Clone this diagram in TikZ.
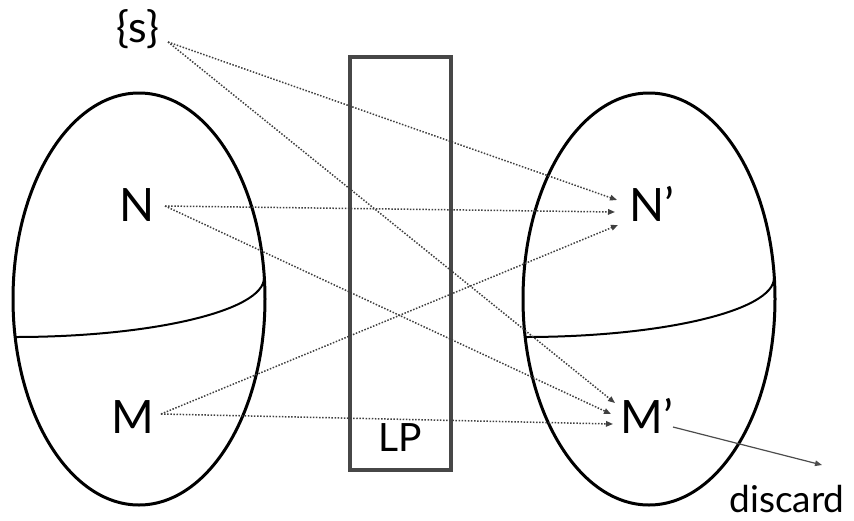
\documentclass[tikz,border=0pt]{standalone}
\usepackage{fontspec}
\setmainfont{Lato}
\usetikzlibrary{arrows.meta}
\tikzset{
  lbl/.style={anchor=base, inner sep=0pt, font=\fontsize{46}{50}\selectfont},
  lblsmall/.style={anchor=base, inner sep=0pt, font=\fontsize{38}{42}\selectfont},
  egg/.style={draw=black, line width=3pt},
  equator/.style={draw=black, line width=2pt},
  lpbox/.style={draw=black!72, line width=3.2pt},
  dotarrow/.style={draw=black!75, line width=1.5pt, dash pattern=on 1.5pt off 1.6pt,
    -{Triangle[length=7pt,width=5.5pt,black!75]}},
  solidarrow/.style={draw=black!70, line width=1.2pt, -{Triangle[length=7pt,width=5.5pt,black!70]}}
}
\begin{document}
\begin{tikzpicture}[x=1pt,y=-1pt]
\useasboundingbox (0,0) rectangle (854,520);
% left and right spheres
\draw[egg] (139,299) ellipse [x radius=126, y radius=206];
\draw[equator] (264,278) arc [start angle=0, end angle=90, x radius=249, y radius=59];
\draw[egg] (649,299) ellipse [x radius=126, y radius=206];
\draw[equator] (774,278) arc [start angle=0, end angle=90, x radius=249, y radius=59];
% LP box
\draw[lpbox] (350,57) rectangle (451,470);
\node[lblsmall, font=\fontsize{39}{42}\selectfont] (lp) at (400,451) {LP};
% labels
\node[lblsmall, font=\fontsize{43}{46}\selectfont] (s) at (138,42) {\{s\}};
\node[lbl] (n) at (137,221) {N};
\node[lbl] (m) at (133,433) {M};
\node[lbl] (np) at (652,221) {N’};
\node[lbl] (mp) at (647,433) {M’};
\node[lblsmall, font=\fontsize{37}{40}\selectfont] (disc) at (787,512) {discard};
% connector ends
\coordinate (sOut) at (168,42);
\coordinate (nOut) at (165,206);
\coordinate (mOut) at (161,414);
\coordinate (npA) at (617,200);
\coordinate (npB) at (615,212);
\coordinate (npC) at (618,225);
\coordinate (mpA) at (615,403);
\coordinate (mpB) at (611,414);
\coordinate (mpC) at (613,424);
\coordinate (mpOut) at (673,427);
\coordinate (discIn) at (822,465);
% connectors
\draw[dotarrow] (sOut) -- (npA);
\draw[dotarrow] (sOut) -- (mpA);
\draw[dotarrow] (nOut) -- (npB);
\draw[dotarrow] (nOut) -- (mpB);
\draw[dotarrow] (mOut) -- (npC);
\draw[dotarrow] (mOut) -- (mpC);
\draw[solidarrow] (mpOut) -- (discIn);
\end{tikzpicture}
\end{document}
